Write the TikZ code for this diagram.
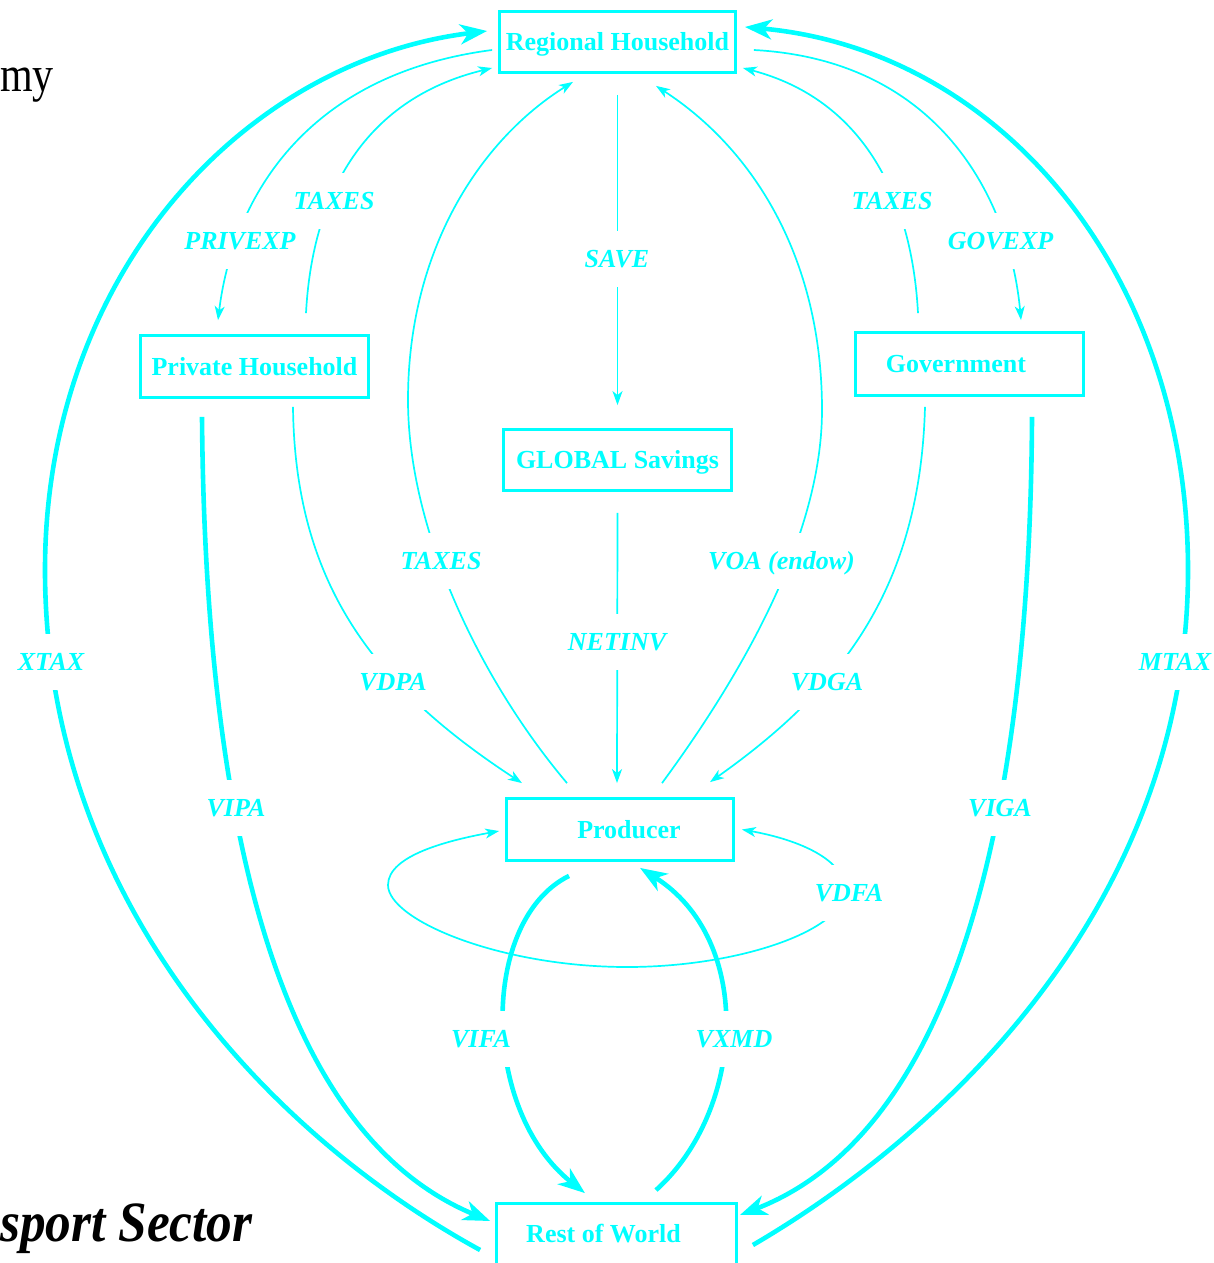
\documentclass[tikz,border=0pt]{standalone}
\usepackage{fontspec}
\setmainfont{Liberation Serif}
\usetikzlibrary{arrows.meta}
\definecolor{flow}{RGB}{0,255,255}

\begin{document}
\begin{tikzpicture}[x=1pt,y=-1pt,
  acct/.style={draw=flow, line width=2.8pt, text=flow, inner sep=0pt,
    minimum width=228pt, minimum height=61pt,
    font=\fontsize{26}{28}\selectfont\bfseries,
    text height=17.5pt, text depth=0pt},
  lbl/.style={fill=white, text=flow, inner xsep=4pt, inner ysep=0pt,
    font=\fontsize{26}{28}\selectfont\bfseries\itshape,
    text height=17.5pt, text depth=0pt, minimum height=56pt},
  smallflow/.style={draw=flow, line width=1.7pt,
    -{Stealth[length=14pt,width=10pt,inset=4pt]}},
  bigflow/.style={draw=flow, line width=4.6pt,
    -{Stealth[length=27pt,width=20pt,inset=8pt]}},
  title/.style={inner sep=0pt, text=black}]

\useasboundingbox (0,0) rectangle (1214,1263);

% partial slide titles
\node[title, anchor=base west, font=\fontsize{50}{50}\selectfont]
  (econ) at (0,92) {\scalebox{0.84}[1]{my}};
\node[title, anchor=base west, font=\fontsize{57}{57}\selectfont\bfseries\itshape]
  (sector) at (0,1241) {\scalebox{0.9}[1]{sport Sector}};

% accounts
\node[acct, minimum width=236pt] (RH) at (617.5,42) {Regional Household};
\node[acct, minimum height=62pt] (PH) at (254.5,366.5) {Private Household};
\node[acct, minimum height=63pt] (GV) at (969.5,364) {Government\hspace*{27pt}};
\node[acct] (GS) at (617.5,460) {GLOBAL Savings};
\node[acct, minimum width=227pt, minimum height=62pt] (PR) at (620,829.5) {\hspace*{18pt}Producer};
\node[acct, minimum width=240pt] (RW) at (616.5,1234) {Rest of World\hspace*{26pt}};

% trade flows and trade taxes
\draw[bigflow] ([shift={(-15,16)}]RW.west) .. controls (270,1135) and (45,900) .. (45,570)
  .. controls (45,273) and (245,61) .. ([shift={(-11,-11)}]RH.west);
\draw[bigflow] ([shift={(15,11)}]RW.east) .. controls (950,1130) and (1188,900) .. (1188,570)
  .. controls (1188,273) and (1000,50) .. ([shift={(8,-15)}]RH.east);
\draw[bigflow] ([shift={(-52.5,18)}]PH.south) .. controls (205,800) and (270,1130) .. ([shift={(-5,-13)}]RW.west);
\draw[bigflow] ([shift={(62.5,20)}]GV.south) .. controls (1030,800) and (960,1130) .. ([shift={(2,-19)}]RW.east);
\draw[bigflow] ([shift={(-51,14)}]PR.south) .. controls (480,920) and (480,1110) .. ([shift={(-31.5,-9)}]RW.north);
\draw[bigflow] ([shift={(39.5,-12)}]RW.north) .. controls (745,1110) and (755,940) .. ([shift={(20,6)}]PR.south);

% domestic flows
\draw[smallflow] ([shift={(0,21)}]RH.south) -- ([shift={(0,-23)}]GS.north);
\draw[smallflow] ([shift={(0,21)}]GS.south) -- ([shift={(-3,-14)}]PR.north);
\draw[smallflow] ([shift={(-6,8)}]RH.west) .. controls (300,75) and (232,205) .. ([shift={(-36.5,-14)}]PH.north);
\draw[smallflow] ([shift={(51.5,-21)}]PH.north) .. controls (312,200) and (360,100) .. ([shift={(-6,26)}]RH.west);
\draw[smallflow] ([shift={(-51.5,-18)}]GV.north) .. controls (912,200) and (865,100) .. ([shift={(6,26)}]RH.east);
\draw[smallflow] ([shift={(17,8)}]RH.east) .. controls (940,60) and (1010,200) .. ([shift={(51.5,-11)}]GV.north);
\draw[smallflow] ([shift={(-53,-14)}]PR.north) .. controls (480,680) and (408,530) .. (408,400)
  .. controls (408,250) and (480,140) .. ([shift={(-44.5,8)}]RH.south);
\draw[smallflow] ([shift={(42,-14)}]PR.north) .. controls (760,650) and (822,520) .. (822,410)
  .. controls (822,260) and (755,150) .. ([shift={(38.5,12)}]RH.south);
\draw[smallflow] ([shift={(38.5,8)}]PH.south) .. controls (295,590) and (380,690) .. ([shift={(-98,-14)}]PR.north);
\draw[smallflow] ([shift={(-44.5,10)}]GV.south) .. controls (920,590) and (840,690) .. ([shift={(90,-15)}]PR.north);
\draw[smallflow, {Stealth[length=14pt,width=10pt,inset=4pt]}-{Stealth[length=14pt,width=10pt,inset=4pt]}]
  ([shift={(7,0)}]PR.east) .. controls (800,840) and (845,860) .. (845,890)
  .. controls (845,930) and (740,967) .. (627,967)
  .. controls (500,967) and (388,920) .. (388,885)
  .. controls (388,855) and (450,840) .. ([shift={(-6,1.5)}]PR.west);

% flow labels
\node[lbl] (lPRIVEXP) at (240,241) {PRIVEXP};
\node[lbl] (lTAXESa) at (334,200.5) {TAXES};
\node[lbl] (lSAVE) at (617,258.5) {SAVE};
\node[lbl] (lTAXESb) at (892,200.5) {TAXES};
\node[lbl] (lGOVEXP) at (1000.5,241) {GOVEXP};
\node[lbl] (lTAXESc) at (441,561) {TAXES};
\node[lbl] (lVOA) at (781.5,561) {VOA (endow)};
\node[lbl] (lNETINV) at (617,642) {NETINV};
\node[lbl] (lXTAX) at (51,662) {XTAX};
\node[lbl] (lMTAX) at (1175,662) {MTAX};
\node[lbl] (lVDPA) at (393,682) {VDPA};
\node[lbl] (lVDGA) at (827,682) {VDGA};
\node[lbl] (lVIPA) at (236,808) {VIPA};
\node[lbl] (lVIGA) at (1000,808) {VIGA};
\node[lbl] (lVDFA) at (849,893) {VDFA};
\node[lbl] (lVIFA) at (481,1039) {VIFA};
\node[lbl] (lVXMD) at (734,1039) {VXMD};
\end{tikzpicture}
\end{document}
